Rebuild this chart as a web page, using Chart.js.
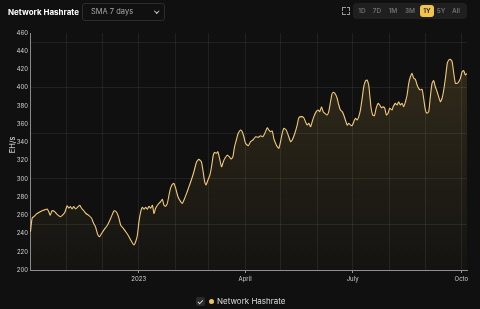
<!DOCTYPE html>
<html><head><meta charset="utf-8">
<script src="https://cdn.jsdelivr.net/npm/chart.js@4.4.1/dist/chart.umd.min.js"></script>
<style>
html,body{margin:0;padding:0;background:#101010;}
#wrap{position:relative;width:480px;height:309px;overflow:hidden;font-family:Inter,"Noto Sans",sans-serif;background:#101010;}
#c{position:absolute;left:0;top:0;}
.title{position:absolute;left:8px;top:7px;font-size:8px;font-weight:700;color:#fff;line-height:10px;}
.dd{position:absolute;left:82px;top:3px;width:83px;height:18px;box-sizing:border-box;border:1px solid #2c2c2c;border-radius:3px;color:#a8a8a8;font-size:7.5px;line-height:16px;padding-left:8px;}
.chev{position:absolute;left:72px;top:5px;width:2.5px;height:2.5px;border-right:1px solid #ccc;border-bottom:1px solid #ccc;transform:rotate(45deg);}
.fs{position:absolute;left:342px;top:7px;width:8px;height:8px;}
.fs i{position:absolute;width:2.5px;height:2.5px;border-color:#999;border-style:solid;border-width:0;}
.grp{position:absolute;left:353px;top:3px;width:114px;height:16px;background:#1f1f1f;border-radius:4px;}
.b{position:absolute;top:0;height:16px;line-height:16px;font-size:6.5px;font-weight:600;color:#6f6f6f;text-align:center;width:14px;margin-left:-7px;}
.b.on{background:#f2c44d;color:#1a1a1a;border-radius:3px;top:2px;height:12px;line-height:12px;}
.ytitle{position:absolute;left:1px;top:141px;width:24px;height:8px;text-align:center;transform:rotate(-90deg);font-size:7.5px;color:#e2e2e2;white-space:nowrap;line-height:8px;}
.leg{position:absolute;top:296px;left:0;width:480px;height:12px;}
.cb{position:absolute;left:196px;top:1px;width:9px;height:9px;background:#2a2a2a;border-radius:2px;}
.cb:after{content:"";position:absolute;left:3.2px;top:1.8px;width:1.8px;height:3.6px;border-right:1px solid #ddd;border-bottom:1px solid #ddd;transform:rotate(45deg);}
.dot{position:absolute;left:209px;top:3px;width:5px;height:5px;border-radius:50%;background:#f0c55a;}
.lt{position:absolute;left:217px;top:0;font-size:8px;line-height:11px;color:#dcdcdc;}
</style></head>
<body><div id="wrap">
<canvas id="c" width="480" height="309"></canvas>
<div class="title">Network Hashrate</div>
<div class="dd">SMA 7 days<span class="chev"></span></div>
<div class="fs"><i style="left:0;top:0;border-left-width:1px;border-top-width:1px"></i><i style="right:0;top:0;border-right-width:1px;border-top-width:1px"></i><i style="left:0;bottom:0;border-left-width:1px;border-bottom-width:1px"></i><i style="right:0;bottom:0;border-right-width:1px;border-bottom-width:1px"></i></div>
<div class="grp">
<div class="b" style="left:9px">1D</div>
<div class="b" style="left:24px">7D</div>
<div class="b" style="left:40px">1M</div>
<div class="b" style="left:57px">3M</div>
<div class="b on" style="left:74px">1Y</div>
<div class="b" style="left:88px">5Y</div>
<div class="b" style="left:103px">All</div>
</div>
<div class="ytitle">EH/s</div>
<div class="leg"><div class="cb"></div><div class="dot"></div><div class="lt">Network Hashrate</div></div>
</div>
<script>
// day offset from 2022-10-01
const days = [0.4,1.8,3.2,5.1,7.4,10.2,12.5,14.5,15.9,17.0,18.7,20.9,22.9,25.8,27.1,29.4,30.5,31.4,32.8,34.2,35.6,37.0,38.5,40.7,42.1,43.5,45.5,47.4,49.7,52.0,53.9,55.4,57.3,58.7,59.8,62.6,65.5,68.3,70.6,71.7,73.4,75.3,76.8,79.0,81.0,82.9,85.2,86.9,88.0,89.4,90.9,92.2,93.7,95.1,96.5,97.9,99.3,100.7,102.1,103.6,104.9,106.3,107.8,109.1,110.6,112.0,113.4,114.8,116.2,117.6,119.0,120.4,121.8,123.2,125.2,127.5,128.9,130.3,132.5,134.5,136.5,138.7,141.0,142.9,145.0,146.3,147.8,148.9,150.6,152.2,153.4,155.1,156.2,157.9,159.0,160.7,162.1,163.6,164.9,166.9,168.6,170.3,171.7,173.1,174.6,176.2,178.2,179.6,181.0,182.4,184.7,186.6,188.6,190.9,193.2,195.1,197.0,198.7,200.8,202.1,203.5,205.0,206.3,207.8,209.2,210.6,212.0,213.4,214.8,216.8,218.5,220.5,221.9,224.1,226.1,227.5,229.8,231.7,233.1,234.6,235.9,237.4,238.8,240.2,242.2,243.9,245.2,246.7,248.1,249.5,251.5,252.8,254.3,255.7,257.1,258.5,259.9,261.3,262.7,264.2,265.5,266.9,268.4,269.7,271.2,272.6,274.0,275.4,276.8,278.2,279.6,281.1,282.4,283.9,285.3,286.6,287.5,288.7,290.0,291.5,292.9,294.6,295.9,297.4,298.8,300.2,301.6,303.0,304.4,306.4,307.3,309.2,310.6,312.0,313.4,314.9,316.2,317.7,319.1,320.5,321.9,323.3,324.7,326.1,327.6,328.9,330.3,331.8,333.1,334.6,336.0,337.4,338.8,340.2,341.6,343.0,344.5,345.8,347.3,348.7,350.1,351.7,353.1,354.4,355.8,357.2,358.6,360.0,361.5,362.8,364.2,365.7,367.0,368.4,369.8];
const hashrate = [242,257,258.5,261,263,265,266,267,264,260,265,264,261,258.5,259.6,263,267,270.5,268,269.5,267,269.5,267,269.5,271,268,265,262,260,257,251,247.5,239,236.5,238.4,244,249,256.7,264,265,263,256.7,249,245.7,242,238.4,233,229,227.4,231,238.4,253,264,268.8,266.6,268.8,266.6,270,267.7,271,262,267.7,271,273,275,277.5,271,270,273,282,290,294,295,290,280.4,275,273,276.8,284,291.4,298.7,307.8,318.8,321.4,318.8,309.7,296.9,293.3,298.7,304,311.6,326,329,328,329.8,320.7,313.3,318.8,322.5,326,324.3,321.8,324.3,335.3,342.6,350,353.6,351.7,346.2,339,336.4,340.8,342.6,346.2,345.6,347.3,346.2,350,356,353.6,351.7,352.5,344.5,339,335.3,333.5,340.8,350,355.4,353.6,348,340.8,342.6,350,359,367,368.3,367,362.7,359,361,357.2,362.7,368.3,373.7,375.5,373.7,379,373.7,371.9,370,373.7,384.6,393.8,395,392.7,388.4,381,375.5,373.7,370,364.6,359,361,359,358.3,362.7,366.4,364.6,368.3,375.5,388.4,401,407.3,408.4,403,392,377.4,370,369.3,377.4,382.8,381,378,379,377.4,370,371.9,377.4,375.5,379.2,382.8,381,384.6,381,382.8,379.2,384.6,392,404.8,412,415.7,410.3,409.2,403,399.3,397.5,398.2,388.4,375.5,371.9,373.7,390.2,404.8,407.7,401,395.6,390.2,384.6,388.4,397.5,412,426.7,430.4,431,428.5,415.7,404.8,404.8,406.6,410.3,417.6,418.7,414,415.7];
const monthStartDays = [31,61,92,123,151,182,212,243,273,304,335,365];
const monthLabels = ['','','2023','','','April','','','July','','','Octo'];
const yTicks = [200,220,240,260,280,300,320,340,360,380,400,420,440,460];
const gridValues = [200,250,300,350,400,450];

const lineColor = '#f3cb78';
const ctx = document.getElementById('c').getContext('2d');
new Chart(ctx, {
  type: 'line',
  data: {
    datasets: [{
      label: 'Network Hashrate',
      data: days.map((d, i) => ({x: d, y: hashrate[i]})),
      borderColor: lineColor,
      borderWidth: 1.1,
      pointRadius: 0,
      tension: 0.2,
      fill: 'start',
      yAxisID: 'y',
      backgroundColor: (c) => {
        const a = c.chart.chartArea;
        if (!a) return 'transparent';
        const g = c.chart.ctx.createLinearGradient(0, a.top, 0, a.bottom);
        g.addColorStop(0, 'rgba(240,195,90,0.17)');
        g.addColorStop(1, 'rgba(240,195,90,0.02)');
        return g;
      }
    }]
  },
  options: {
    responsive: false,
    animation: false,
    layout: {padding: {left: 5, right: 13, top: 33, bottom: 19}},
    plugins: {legend: {display: false}, tooltip: {enabled: false}},
    scales: {
      x: {
        type: 'linear', min: 0, max: days[days.length - 1],
        afterBuildTicks: s => { s.ticks = monthStartDays.map(v => ({value: v})); },
        afterFit: s => { s.height = 20; },
        grid: {
          color: 'rgba(255,255,255,0.07)', drawTicks: true, tickLength: 3,
          tickColor: c => (c.tick && monthLabels[monthStartDays.indexOf(c.tick.value)]) ? '#9a9a9a' : 'transparent'
        },
        border: {color: '#8f8f8f', width: 1},
        ticks: {
          autoSkip: false, maxRotation: 0, padding: 3, color: '#cfcfcf',
          font: {size: 6, family: 'Inter'},
          callback: (v) => { const i = monthStartDays.indexOf(v); return i >= 0 ? monthLabels[i] : ''; }
        }
      },
      y: {
        min: 200, max: 460,
        afterBuildTicks: s => { s.ticks = yTicks.map(v => ({value: v})); },
        afterFit: s => { s.width = 25; },
        grid: {display: false, drawTicks: false},
        border: {display: true, color: '#8a8a8a', width: 1, dash: [2, 2]},
        ticks: {padding: 2, color: '#cfcfcf', font: {size: 6, family: 'Inter'}},
        title: {display: false}
      },
      y2: {
        position: 'right', min: 200, max: 460,
        afterBuildTicks: s => { s.ticks = gridValues.map(v => ({value: v})); },
        afterFit: s => { s.width = 0; },
        grid: {color: 'rgba(255,255,255,0.07)', drawTicks: false},
        border: {display: false},
        ticks: {display: false}
      }
    }
  }
});
</script>
</body></html>
